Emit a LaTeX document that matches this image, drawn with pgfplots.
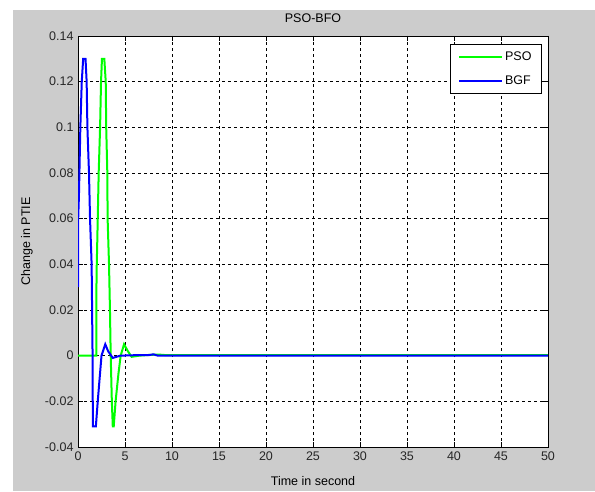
\documentclass[border=0pt]{standalone}
\usepackage{pgfplots}
\pgfplotsset{compat=1.18}
\usepackage{fontspec}
\setmainfont{Liberation Sans}
\definecolor{figgray}{RGB}{204,204,204}
\definecolor{mgreen}{RGB}{0,255,0}
\definecolor{mblue}{RGB}{0,0,255}
\begin{document}
\begin{tikzpicture}[x=1pt,y=1pt]
\fill[white] (0,0) rectangle (595,491);
\fill[figgray] (13,0) rectangle (595,481);
\begin{axis}[
  at={(78pt,44pt)}, anchor=south west,
  scale only axis, width=470pt, height=411pt,
  xmin=0, xmax=50, ymin=-0.04, ymax=0.14,
  axis background/.style={fill=white},
  xtick={0,5,...,50},
  ytick={-0.04,-0.02,0,0.02,0.04,0.06,0.08,0.1,0.12,0.14},
  yticklabels={-0.04,-0.02,0,0.02,0.04,0.06,0.08,0.1,0.12,0.14},
  xticklabels={0,5,10,15,20,25,30,35,40,45,50},
  tick align=inside, tick pos=both,
  major tick length=5pt,
  grid=major,
  major grid style={black, line width=0.6pt, dash pattern=on 3pt off 3pt},
  axis line style={black, line width=0.7pt},
  every tick/.style={black, line width=0.6pt},
  ticklabel style={font=\fontsize{12.5}{14}\selectfont, text=black!85},
  yticklabel style={xshift=-1pt},
  xticklabel style={yshift=-1pt},
  title={PSO-BFO},
  title style={font=\fontsize{12.5}{14}\selectfont, at={(axis description cs:0.5,1)}, anchor=center, yshift=12pt},
  xlabel={Time in second},
  xlabel style={font=\fontsize{12.5}{14}\selectfont, at={(axis description cs:0.5,0)}, anchor=center, yshift=-34pt},
  ylabel={Change in PTIE},
  ylabel style={font=\fontsize{12.5}{14}\selectfont, at={(axis description cs:-0.1085,0.5)}, anchor=center},
  legend style={at={(axis description cs:0.987,0.981)}, anchor=north east, draw=black, line width=0.7pt, fill=white,
    font=\fontsize{12.5}{14}\selectfont, inner xsep=8pt, inner ysep=6pt, row sep=9pt,
    legend cell align=left},
  legend image code/.code={\draw[#1, line width=2pt] (0pt,0pt) -- (43pt,0pt);},
]
\addplot[mgreen, line width=2pt] coordinates {
(0,0) (1.9,0) (1.95,0) (1.97,0.035) (2.05,0.05) (2.15,0.07) (2.2,0.08) (2.35,0.10) (2.45,0.12) (2.55,0.13)
(2.8,0.13) (2.95,0.12) (3.0,0.10) (3.12,0.08) (3.15,0.06) (3.3,0.04) (3.4,0.02) (3.48,0)
(3.6,-0.02) (3.7,-0.031) (3.8,-0.031) (4.0,-0.02) (4.3,-0.008) (4.54,0) (4.9,0.005)
(5.3,0.002) (5.7,-0.0005) (6.5,0) (7.5,0.0003) (8.5,0.0005) (9.5,0.0002) (50,0.0002)
};
\addlegendentry{PSO}
\addplot[mblue, line width=2pt] coordinates {
(0,0.03) (0.02,0.06) (0.1,0.07) (0.15,0.08) (0.25,0.10) (0.4,0.12) (0.55,0.13)
(0.8,0.13) (0.92,0.12) (1.0,0.10) (1.17,0.08) (1.28,0.06) (1.45,0.04) (1.5,0.02) (1.55,0)
(1.58,-0.031) (1.9,-0.031) (2.1,-0.02) (2.5,0) (2.9,0.005) (3.2,0.002) (3.7,-0.001)
(4.5,0) (6,0.0002) (7.5,0.0002) (8,0.0006) (8.5,0) (50,0)
};
\addlegendentry{BGF}
\end{axis}
\end{tikzpicture}
\end{document}
